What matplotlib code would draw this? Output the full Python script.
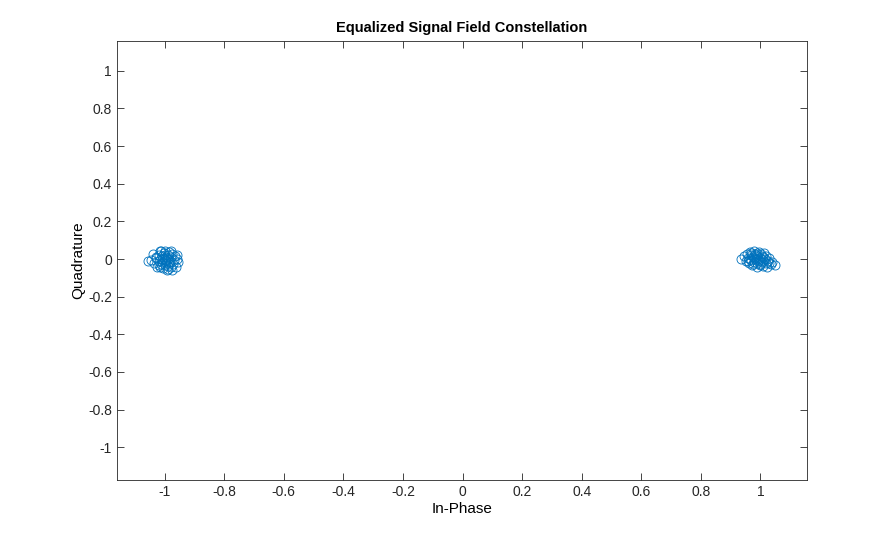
import matplotlib
matplotlib.use("Agg")
import matplotlib.pyplot as plt

plt.rcParams['font.family'] = ['Liberation Sans', 'DejaVu Sans']

# symbols near -1 (BPSK "0")
left_i = [-1.055, -1.04, -1.035, -1.03, -1.025, -1.02, -1.018, -1.015, -1.012, -1.01,
          -1.008, -1.005, -1.003, -1.0, -0.998, -0.997, -0.995, -0.993, -0.99, -0.99,
          -0.988, -0.985, -0.983, -0.98, -0.978, -0.975, -0.972, -0.97, -0.965, -0.962,
          -0.958, -0.955, -1.008, -1.0, -0.995, -1.02, -1.028, -0.985, -1.012, -0.992,
          -1.0, -0.975, -1.045, -0.96, -1.005, -0.98, -1.015, -0.99]
left_q = [-0.01, 0.025, -0.02, 0.005, -0.04, 0.02, -0.01, 0.04, -0.025, 0.0,
          0.015, -0.05, 0.03, -0.005, 0.045, -0.02, 0.01, -0.06, 0.02, -0.035,
          0.0, 0.035, -0.015, -0.045, 0.01, 0.025, -0.025, -0.005, 0.015, -0.04,
          0.0, -0.015, -0.015, 0.02, -0.01, -0.03, 0.01, -0.025, 0.045, 0.005,
          -0.03, -0.06, -0.005, 0.02, 0.005, 0.04, -0.045, -0.055]

# symbols near +1
right_i = [0.935, 0.945, 0.95, 0.955, 0.96, 0.962, 0.965, 0.968, 0.97, 0.972,
           0.975, 0.978, 0.98, 0.982, 0.985, 0.987, 0.99, 0.992, 0.995, 0.997,
           1.0, 1.002, 1.005, 1.008, 1.01, 1.012, 1.015, 1.018, 1.02, 1.025,
           1.03, 1.035, 1.04, 1.048, 0.99, 0.98, 1.0, 0.975, 1.005, 0.97,
           0.99, 1.01, 0.958, 1.022, 0.985, 0.995, 1.03, 0.965]
right_q = [0.0, 0.015, -0.01, 0.025, 0.005, -0.02, 0.035, -0.005, 0.02, -0.03,
           0.01, 0.04, -0.015, 0.025, 0.0, -0.04, 0.015, -0.01, 0.035, -0.025,
           0.005, 0.025, -0.015, 0.01, -0.035, 0.03, 0.0, -0.02, 0.015, -0.01,
           0.005, -0.025, -0.015, -0.03, -0.02, 0.005, -0.03, -0.025, 0.015, 0.03,
           0.03, -0.005, -0.01, -0.04, 0.02, -0.005, -0.02, 0.0]

ticks = [-1, -0.8, -0.6, -0.4, -0.2, 0, 0.2, 0.4, 0.6, 0.8, 1]
tick_labels = ['-1', '-0.8', '-0.6', '-0.4', '-0.2', '0', '0.2', '0.4', '0.6', '0.8', '1']

fig = plt.figure(figsize=(8.95, 5.4), dpi=100)
ax = fig.add_axes([0.1307, 0.111, 0.7705, 0.8135])

blue = '#0072BD'
ax.plot(left_i + right_i, left_q + right_q, 'o', markerfacecolor='none',
        markeredgecolor=blue, markersize=6.5, markeredgewidth=0.6)

ax.set_xlim(-1.16, 1.155)
ax.set_ylim(-1.175, 1.16)
ax.set_xticks(ticks)
ax.set_xticklabels(tick_labels)
ax.set_yticks(ticks)
ax.set_yticklabels(tick_labels)
ax.tick_params(direction='in', top=True, right=True, length=5, width=0.6,
               labelsize=10, colors='#262626')
for s in ax.spines.values():
    s.set_linewidth(0.6)
    s.set_color('#262626')

ax.set_title('Equalized Signal Field Constellation', fontsize=10.5, fontweight='bold', pad=6)
ax.set_xlabel('In-Phase', fontsize=11, labelpad=2)
ax.set_ylabel('Quadrature', fontsize=11, labelpad=2)

fig.savefig('out.png', dpi=100)
